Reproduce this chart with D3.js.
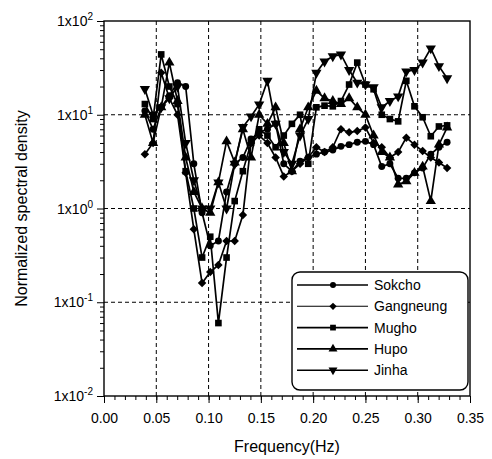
<!DOCTYPE html>
<html>
<head>
<meta charset="utf-8">
<script src="https://cdn.jsdelivr.net/npm/d3@7"></script>
<style>
  html, body { margin: 0; padding: 0; background: #fff; }
  svg text { font-family: "Liberation Sans", Arial, sans-serif; fill: #000; }
</style>
</head>
<body>
<svg id="chart" width="492" height="459"></svg>
<script>
// ---- data ----
const freq = [0.0391, 0.0469, 0.0547, 0.0625, 0.0703, 0.0781, 0.0859, 0.0938, 0.1016, 0.1094,
              0.1172, 0.1250, 0.1328, 0.1406, 0.1484, 0.1563, 0.1641, 0.1719, 0.1797, 0.1875,
              0.1953, 0.2031, 0.2109, 0.2188, 0.2266, 0.2344, 0.2422, 0.2500, 0.2578, 0.2656,
              0.2734, 0.2813, 0.2891, 0.2969, 0.3047, 0.3125, 0.3203, 0.3281];
const sokcho = [11, 7, 12, 16, 22, 20, 3, 0.9, 0.4, 0.45,
                1.5, 3, 3.5, 5.5, 6.5, 7, 8, 3, 2.5, 3.2,
                3.5, 3.8, 4, 4.2, 4.6, 4.8, 5.1, 5.2, 4.8, 2.8,
                3, 2.1, 2.1, 2.4, 2.7, 3.8, 4.5, 5.1];
const gangneung = [3.8, 5, 28, 15, 10, 2.4, 0.6, 0.16, 0.21, 0.25,
                   0.45, 0.45, 0.85, 5, 6, 5, 3.5, 2.2, 2.5, 3,
                   3.5, 4.5, 4, 4.5, 7, 6.5, 6.7, 7.3, 5, 4.5,
                   3.5, 4, 5.7, 4.8, 4.1, 3.5, 3.1, 2.7];
const mugho = [13, 9, 44, 20, 13, 2.5, 1.0, 0.3, 0.5, 0.06,
               0.3, 1.2, 2.5, 5, 7, 6, 4.5, 6, 8, 10,
               3, 12, 12.5, 12.3, 14, 21, 36, 21, 18.7, 10,
               9, 8.5, 23, 12.3, 9.4, 5.9, 7.5, 7.7];
const hupo = [10, 5, 12, 36, 14, 3.5, 1.5, 1.0, 0.9, 1.9,
              5.2, 3.1, 7, 3.5, 10, 8, 12, 5, 2.5, 7,
              12, 18, 15, 14, 13, 15, 12, 10, 6, 4,
              3.5, 1.8, 1.95, 2.4, 2.8, 1.2, 4.8, 7.3];
const jinha = [18.8, 10, 12, 15, 20, 5, 2, 1.0, 1.0, 1.9,
               1.0, 3, 7.4, 9.6, 12.9, 23, 8, 4, 3, 6,
               9, 28, 37, 42, 44, 30, 22, 21, 19.7, 12,
               14, 15.7, 29, 30, 36, 51, 33, 24.5];
const seriesNames = ["Sokcho", "Gangneung", "Mugho", "Hupo", "Jinha"];
const seriesValues = [sokcho, gangneung, mugho, hupo, jinha];
const xTicks = [0.00, 0.05, 0.10, 0.15, 0.20, 0.25, 0.30, 0.35];
const yTickExps = [-2, -1, 0, 1, 2];
const xLabel = "Frequency(Hz)";
const yLabel = "Normalized spectral density";

// ---- layout ----
const svg = d3.select("#chart");
const L = 104, R = 470, T = 21, B = 396;
const x = d3.scaleLinear().domain([0, 0.35]).range([L, R]);
const y = d3.scaleLog().domain([0.01, 100]).range([B, T]);

// grid
const g = svg.append("g");
xTicks.filter(v => v > 0 && v < 0.35).forEach(v => {
  g.append("line").attr("x1", x(v)).attr("x2", x(v)).attr("y1", T).attr("y2", B)
    .attr("stroke", "#000").attr("stroke-width", 1).attr("stroke-dasharray", "4,3");
});
yTickExps.filter(e => e > -2 && e < 2).forEach(e => {
  g.append("line").attr("x1", L).attr("x2", R).attr("y1", y(Math.pow(10, e))).attr("y2", y(Math.pow(10, e)))
    .attr("stroke", "#000").attr("stroke-width", 1).attr("stroke-dasharray", "4,3");
});

// frame
svg.append("rect").attr("x", L).attr("y", T).attr("width", R - L).attr("height", B - T)
  .attr("fill", "none").attr("stroke", "#000").attr("stroke-width", 1.4);

// x axis
const xMinor = d3.range(0, 0.3501, 0.01);
const xAxis = d3.axisBottom(x).tickValues(xMinor).tickSize(4).tickFormat("");
svg.append("g").attr("transform", `translate(0,${B})`).call(xAxis)
  .call(a => a.select(".domain").remove())
  .call(a => a.selectAll("line").attr("stroke-width", 1));
const xMajor = d3.axisBottom(x).tickValues(xTicks).tickSize(7).tickPadding(10).tickFormat(d3.format(".2f"));
svg.append("g").attr("transform", `translate(0,${B})`).call(xMajor)
  .call(a => a.select(".domain").remove())
  .call(a => a.selectAll("line").attr("stroke-width", 1))
  .call(a => a.selectAll("text").attr("font-size", 14).attr("font-family", "Liberation Sans, Arial, sans-serif"));

// y axis minor
const yMinorVals = [];
for (let e = -2; e < 2; e++) for (let m = 2; m <= 9; m++) yMinorVals.push(m * Math.pow(10, e));
const yMinor = d3.axisLeft(y).tickValues(yMinorVals).tickSize(4).tickFormat("");
svg.append("g").attr("transform", `translate(${L},0)`).call(yMinor)
  .call(a => a.select(".domain").remove());
const yMajor = d3.axisLeft(y).tickValues(yTickExps.map(e => Math.pow(10, e))).tickSize(7).tickFormat("");
svg.append("g").attr("transform", `translate(${L},0)`).call(yMajor)
  .call(a => a.select(".domain").remove());
yTickExps.forEach(e => {
  const t = svg.append("text").attr("x", L - 11).attr("y", y(Math.pow(10, e)) + 5)
    .attr("text-anchor", "end").attr("font-size", 14);
  t.append("tspan").text("1x10");
  t.append("tspan").attr("dy", -6).attr("font-size", 10).text(String(e));
});

// axis labels
svg.append("text").attr("x", (L + R) / 2).attr("y", 452).attr("text-anchor", "middle")
  .attr("font-size", 16).text(xLabel);
svg.append("text").attr("transform", `translate(27,${(T + B) / 2}) rotate(-90)`)
  .attr("text-anchor", "middle").attr("font-size", 16).text(yLabel);

// symbols
const sym = [
  {type: d3.symbolCircle, size: 38, rot: 0},
  {type: d3.symbolSquare, size: 36, rot: 45},
  {type: d3.symbolSquare, size: 44, rot: 0},
  {type: d3.symbolTriangle, size: 46, rot: 0},
  {type: d3.symbolTriangle, size: 46, rot: 180}
];

const lineGen = d3.line().x((d, i) => x(freq[i])).y(d => y(d));
const plot = svg.append("g");
seriesValues.forEach((vals, si) => {
  plot.append("path").datum(vals).attr("d", lineGen)
    .attr("fill", "none").attr("stroke", "#000").attr("stroke-width", 1.7);
  plot.selectAll(null).data(vals).enter().append("path")
    .attr("d", d3.symbol().type(sym[si].type).size(sym[si].size))
    .attr("transform", (d, i) => `translate(${x(freq[i])},${y(d)}) rotate(${sym[si].rot})`)
    .attr("fill", "#000");
});

// legend
const lg = svg.append("g");
lg.append("rect").attr("x", 292).attr("y", 272).attr("width", 176).attr("height", 118)
  .attr("rx", 8).attr("fill", "#fff").attr("stroke", "#000").attr("stroke-width", 1.4);
seriesNames.forEach((name, si) => {
  const yy = 285 + si * 21.3;
  lg.append("line").attr("x1", 297).attr("x2", 368).attr("y1", yy).attr("y2", yy)
    .attr("stroke", "#000").attr("stroke-width", si === 1 ? 1.1 : 1.6);
  lg.append("path").attr("d", d3.symbol().type(sym[si].type).size(sym[si].size * 0.75))
    .attr("transform", `translate(333,${yy}) rotate(${sym[si].rot})`).attr("fill", "#000");
  lg.append("text").attr("x", 374).attr("y", yy + 5).attr("font-size", 14).text(name);
});
</script>
</body>
</html>
